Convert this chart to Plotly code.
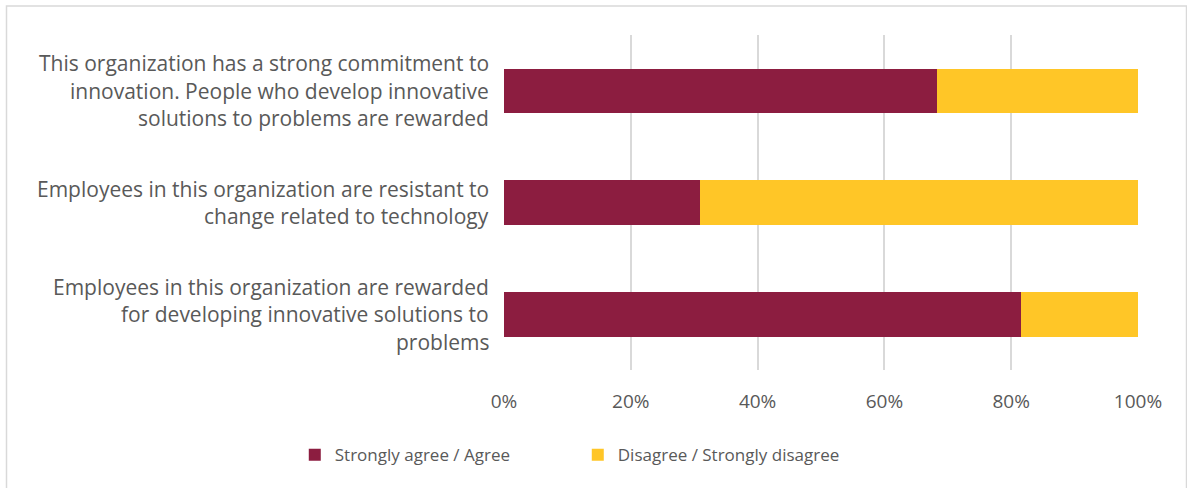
import plotly.graph_objects as go

# Survey statements (line breaks as they wrap beside the bars)
statements = [
    "This organization has a strong commitment to<br>innovation. People who develop innovative<br>solutions to problems are rewarded",
    "Employees in this organization are resistant to<br>change related to technology",
    "Employees in this organization are rewarded<br>for developing innovative solutions to<br>problems",
]
agree = [68.3, 30.9, 81.5]        # Strongly agree / Agree (%)
disagree = [31.7, 69.1, 18.5]     # Disagree / Strongly disagree (%)
series_names = ["Strongly agree / Agree", "Disagree / Strongly disagree"]
x_ticks = [0, 20, 40, 60, 80, 100]
x_tick_labels = ["0%", "20%", "40%", "60%", "80%", "100%"]

MAROON = "#8C1D40"
GOLD = "#FFC627"
TEXT = "#595959"
GRID = "#D9D9D9"
FONT = "Open Sans"

cats = list(range(len(statements)))

fig = go.Figure()
fig.add_trace(go.Bar(y=cats, x=agree, orientation="h", name=series_names[0],
                     marker=dict(color=MAROON, line=dict(width=0)), width=0.4))
fig.add_trace(go.Bar(y=cats, x=disagree, orientation="h", name=series_names[1],
                     marker=dict(color=GOLD, line=dict(width=0)), width=0.4))

# Category labels, one annotation per wrapped line so the line spacing can be set
line_gap = 27.5
for c, text in zip(cats, statements):
    lines = text.split("<br>")
    n = len(lines)
    for i, ln in enumerate(lines):
        fig.add_annotation(
            x=0, xref="paper", xanchor="right", xshift=-13,
            y=c, yref="y", yanchor="middle",
            yshift=-(i - (n - 1) / 2) * line_gap,
            text=ln, showarrow=False,
            font=dict(family=FONT, size=21, color=TEXT),
        )

# Light frame around the chart area
fig.add_shape(type="rect", xref="paper", yref="paper",
              x0=-0.7847, x1=1.0765, y0=-0.5, y1=1.0866,
              line=dict(color=GRID, width=1.5), fillcolor="rgba(0,0,0,0)", layer="below")

fig.update_layout(
    barmode="stack",
    width=1187, height=488,
    margin=dict(l=504, r=49, t=35, b=118),
    plot_bgcolor="white", paper_bgcolor="white",
    font=dict(family=FONT, color=TEXT, size=19),
    xaxis=dict(range=[0, 100], tickvals=x_ticks, ticktext=x_tick_labels,
               showgrid=True, gridcolor=GRID, gridwidth=1.5,
               zeroline=False, showline=False, ticks="",
               tickfont=dict(family=FONT, size=19, color=TEXT),
               ticklabelstandoff=18, fixedrange=True),
    yaxis=dict(tickvals=cats, showticklabels=False, autorange="reversed",
               range=[-0.5, 2.5], showgrid=False, zeroline=False, fixedrange=True),
    legend=dict(orientation="h", x=-0.33, xanchor="left", y=-0.254, yanchor="middle",
                entrywidth=238, entrywidthmode="pixels",
                font=dict(family=FONT, size=17, color=TEXT),
                traceorder="normal", bgcolor="rgba(0,0,0,0)"),
    showlegend=True,
)

fig.write_html("out.html")
